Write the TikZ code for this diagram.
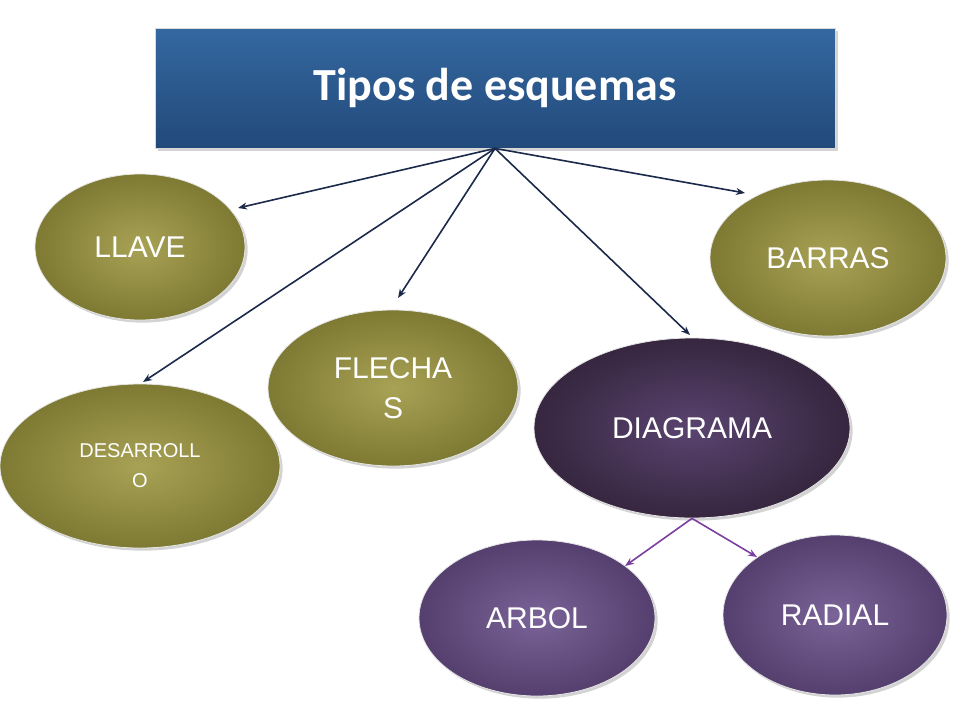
\documentclass[tikz,border=0pt]{standalone}
\usepackage{fontspec}
\setmainfont{Liberation Sans}
\newfontfamily\titlefont{Carlito}
\usetikzlibrary{arrows.meta,shadows}
\definecolor{olive1}{HTML}{A8A255}
\definecolor{olive2}{HTML}{7E7A33}
\definecolor{blu1}{HTML}{3468A0}
\definecolor{blu2}{HTML}{22497A}
\definecolor{dp1}{HTML}{5A4470}
\definecolor{dp2}{HTML}{36263F}
\definecolor{lp1}{HTML}{7A6498}
\definecolor{lp2}{HTML}{553F6E}
\definecolor{arr}{HTML}{1B2A4A}
\definecolor{parr}{HTML}{7B3FA0}
\tikzset{
 oval/.style={ellipse,draw=white!80!gray,line width=0.8pt,inner color=olive1,outer color=olive2,text=white,font=\fontsize{30}{34}\selectfont,align=center,drop shadow={opacity=0.35}},
 dark/.style={oval,inner color=dp1,outer color=dp2},
 light/.style={oval,inner color=lp1,outer color=lp2},
 link/.style={-{Stealth[length=9pt,width=7pt]},arr,line width=1.6pt},
 plink/.style={-{Stealth[length=9pt,width=7pt]},parr,line width=1.6pt},
}
\usetikzlibrary{shapes.geometric}
\begin{document}
\begin{tikzpicture}[x=1pt,y=-1pt]
\useasboundingbox (0,0) rectangle (960,720);
\node[draw=white!70!gray,line width=0.8pt,top color=blu1,bottom color=blu2,minimum width=680pt,minimum height=120pt,drop shadow={opacity=0.35},text=white,font=\titlefont\bfseries\fontsize{46}{50}\selectfont] (title) at (495,88) {Tipos de esquemas};
\node[oval,minimum width=210pt,minimum height=146pt] (llave) at (140,247) {LLAVE};
\node[oval,minimum width=236pt,minimum height=156pt] (barras) at (828,258) {BARRAS};
\node[oval,minimum width=250pt,minimum height=156pt,font=\fontsize{30}{40}\selectfont] (flechas) at (393,388) {FLECHA\\S};
\node[oval,minimum width=280pt,minimum height=164pt,font=\fontsize{20}{30}\selectfont] (desarrollo) at (140,466) {DESARROLL\\O};
\node[dark,minimum width=316pt,minimum height=180pt] (diagrama) at (692,428) {DIAGRAMA};
\node[light,minimum width=236pt,minimum height=156pt] (arbol) at (537,618) {ARBOL};
\node[light,minimum width=224pt,minimum height=160pt] (radial) at (835,615) {RADIAL};
\coordinate (t) at (title.south);
\coordinate (d) at (diagrama.south);
\draw[link] (t) -- (238,208);
\draw[link] (t) -- (143,382);
\draw[link] (t) -- (398,298);
\draw[link] (t) -- (690,335);
\draw[link] (t) -- (745,193);
\draw[plink] (d) -- (625,566);
\draw[plink] (d) -- (757,557);
\end{tikzpicture}
\end{document}
